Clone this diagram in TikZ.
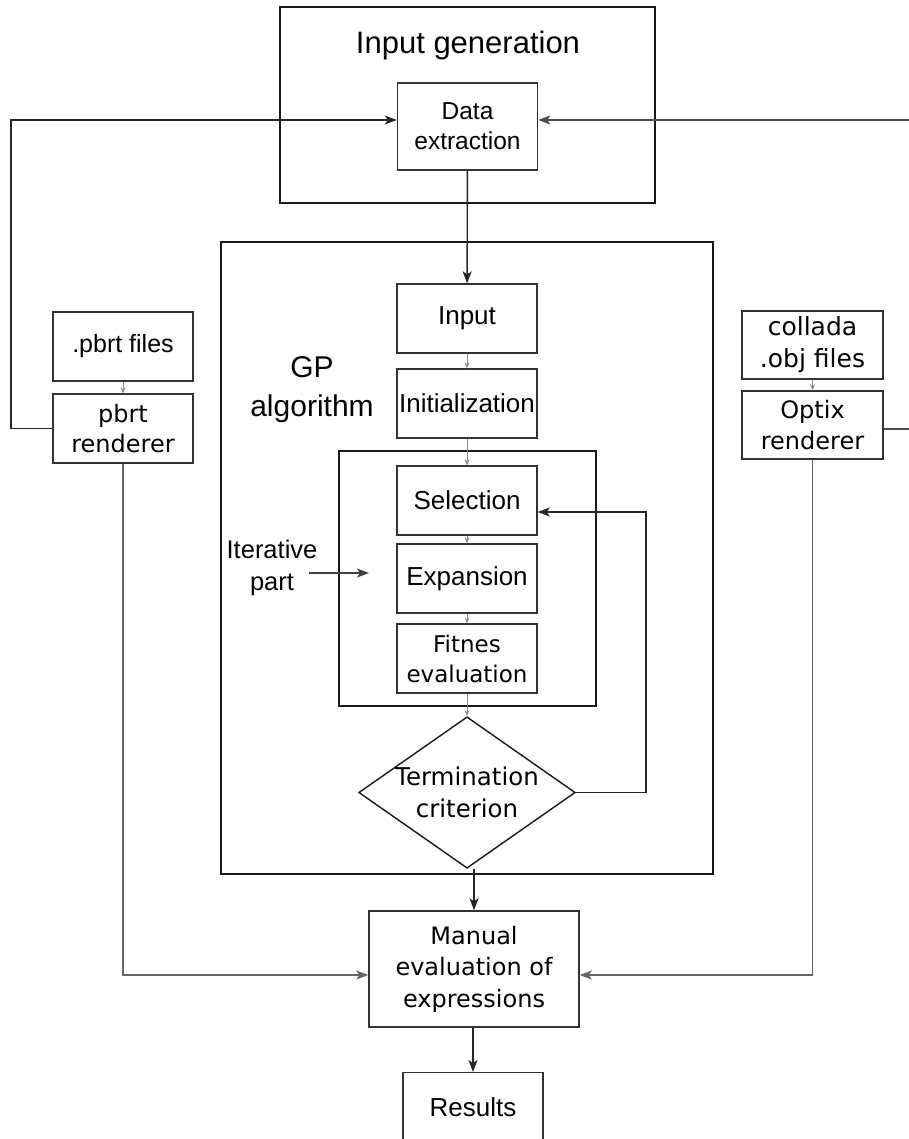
\documentclass[tikz,border=0pt]{standalone}
\usepackage{fontspec}
\setmainfont{Liberation Sans}
\newfontfamily\dvs{DejaVu Sans}
\usetikzlibrary{arrows.meta,shapes.geometric,calc}
\tikzset{
  box/.style={draw=black!80, line width=1.4pt, minimum width=140pt, minimum height=69pt,
    inner sep=0pt, align=center, font=\fontsize{26}{30}\selectfont},
  dvbox/.style={box, font=\dvs\fontsize{24}{30.5}\selectfont},
  frame/.style={draw=black!90, line width=1.4pt, inner sep=0pt},
  conn/.style={draw=black!85, line width=1.4pt, -{Stealth[length=12pt,width=9pt,inset=3pt]}},
  small/.style={draw=black!45, line width=1pt, -{Stealth[length=6pt,width=5pt]}},
  plain/.style={draw=black!85, line width=1.4pt},
  lbl/.style={inner sep=0pt, align=center},
}
\begin{document}
\begin{tikzpicture}[x=1pt,y=-1pt]
\useasboundingbox (0,0) rectangle (909,1139);

% frames
\node[frame, minimum width=375pt, minimum height=196pt] (gen) at (467.5,105) {};
\node[lbl, font=\fontsize{31}{36}\selectfont] (gentitle) at (468,45) {Input generation};
\node[frame, minimum width=492pt, minimum height=632pt] (gp) at (467,558) {};
\node[frame, minimum width=257pt, minimum height=255pt] (iter) at (467.5,578.5) {};

% texts
\node[lbl, font=\fontsize{30}{39}\selectfont] (gplabel) at (312,390) {GP\\algorithm};
\node[lbl, font=\fontsize{25.5}{32}\selectfont] (itlabel) at (272,568) {Iterative\\part};

% boxes
\node[box, minimum height=87pt, font=\fontsize{24.5}{30}\selectfont] (data) at (467.5,126.5) {Data\\extraction};
\node[box] (input) at (467,318.5) {Input};
\node[box] (init) at (467,403.5) {Initialization};
\node[box] (sel) at (467,500.5) {Selection};
\node[box] (exp) at (467,578.5) {Expansion};
\node[dvbox, font=\dvs\fontsize{23}{30}\selectfont] (fit) at (467,658.5) {Fitnes\\evaluation};
\node[draw=black!90, line width=1.4pt, diamond, shape aspect=1.43, minimum width=208pt, minimum height=145pt,
      inner sep=0pt, align=center, font=\dvs\fontsize{24.5}{32}\selectfont] (crit) at (467,792.5) {Termination\\criterion};

\node[box, font=\fontsize{25}{30}\selectfont] (pbrtf) at (123,346.5) {.pbrt files};
\node[dvbox] (pbrtr) at (123,428.5) {pbrt\\renderer};
\node[dvbox, minimum width=141pt, minimum height=68pt, font=\dvs\fontsize{25}{32}\selectfont] (coll) at (812.5,345) {collada\\.obj files};
\node[dvbox, minimum width=141pt, minimum height=68pt] (optix) at (812.5,425) {Optix\\renderer};

\node[dvbox, minimum width=210pt, minimum height=116pt, font=\dvs\fontsize{24}{31.5}\selectfont] (manual) at (474,969) {Manual\\evaluation of\\expressions};
\node[box, minimum height=69pt, anchor=north] (results) at (473,1072) {Results};

% helper coordinates
\coordinate (dataW) at ($(data.west)+(0,-6.5)$);
\coordinate (dataE) at ($(data.east)+(0,-6.5)$);
\coordinate (optE) at ($(optix.east)+(0,4)$);
\coordinate (selE) at ($(sel.east)+(0,11.5)$);
\coordinate (manW) at ($(manual.west)+(0,6)$);
\coordinate (manE) at ($(manual.east)+(0,6)$);
\coordinate (itstart) at (309,573);
\coordinate (itend) at (369,573);

% connectors
\draw[conn] (data) -- (input);
\draw[small] (input) -- (init);
\draw[small] (init) -- (sel);
\draw[small] (sel) -- (exp);
\draw[small] (exp) -- (fit);
\draw[small] (fit) -- (crit);
\draw[small] (pbrtf) -- (pbrtr);
\draw[small] (coll) -- (optix);

\draw[conn] (pbrtr.west) -- (11,428.5) -- (11,120) -- (dataW);
\draw[conn, draw=black!70] (optE) -- (920,429) -- (920,120) -- (dataE);
\draw[conn] (crit.east) -- (646,792.5) -- (646,512) -- (selE);
\draw[conn, draw=black!75, line width=1.1pt] (itstart) -- (itend);

\draw[conn, draw=black!60, line width=1.2pt] (pbrtr.south) -- (pbrtr.south |- manW) -- (manW);
\draw[conn, draw=black!60, line width=1.2pt] (optix.south) -- (optix.south |- manE) -- (manE);
\draw[conn] (manual.north |- crit.south) -- (manual.north);
\draw[conn] (manual.south -| results.north) -- (results.north);
\end{tikzpicture}
\end{document}
